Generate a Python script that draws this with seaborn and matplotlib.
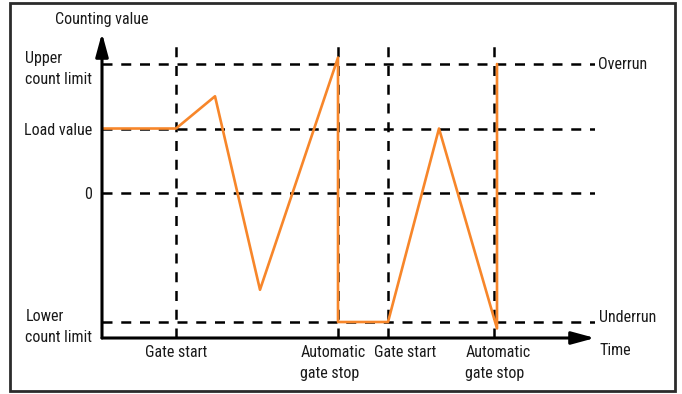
import matplotlib
matplotlib.use("Agg")
import matplotlib.pyplot as plt
import matplotlib.transforms as mtransforms
from matplotlib import font_manager
from matplotlib.patches import Rectangle
import pandas as pd
import seaborn as sns

# Counter trace (time in arbitrary units, count in level units)
time_pts = [0, 7.4, 11.3, 15.8, 23.6, 23.6, 28.6, 33.7, 39.5, 39.5]
count_pts = [1, 1, 1.5, -1.5, 2.1, -2, -2, 1, -2.1, 2]

# Reference levels on the count axis
level_values = [2, 1, 0, -2]
level_labels = ["Upper\ncount limit", "Load value", "0", "Lower\ncount limit"]

# Gate events on the time axis
gate_times = [7.4, 23.6, 28.6, 39.2]
gate_labels = ["Gate start", "Automatic\ngate stop", "Gate start", "Automatic\ngate stop"]
label_nudge_px = [0, -5, 17, 4]

orange = "#F7862A"

sns.set_style("white")
installed = {f.name for f in font_manager.fontManager.ttflist}
narrow = [n for n in ["Liberation Sans Narrow", "Roboto Condensed", "Roboto"]
          if n in installed]
plt.rcParams["font.family"] = narrow + ["DejaVu Sans"]
fs = 11.5

fig = plt.figure(figsize=(6.82, 3.94), dpi=100)
ax = fig.add_axes([102 / 682, 56 / 394, 493 / 682, 305 / 394])
ax.set_xlim(0, 49.3)
ax.set_ylim(-2.248, 2.481)

dash = dict(color="black", lw=1.8, dashes=(4, 3.5), zorder=1)
for v in level_values:
    ax.axhline(v, xmin=0, xmax=1, **dash)
for t in gate_times:
    ax.axvline(t, ymin=0, ymax=0.961, **dash)

df = pd.DataFrame({"time": time_pts, "count": count_pts})
sns.lineplot(data=df, x="time", y="count", sort=False, estimator=None,
             color=orange, lw=1.9, ax=ax, zorder=3)

for s in ax.spines.values():
    s.set_visible(False)

# axis arrows
arrow = dict(arrowstyle="-|>,head_length=1.4,head_width=0.38", lw=2.2,
             color="black", shrinkA=0, shrinkB=0, mutation_scale=10)
ax.annotate("", xy=(0, 1), xytext=(0, 0), xycoords="axes fraction",
            textcoords="axes fraction", arrowprops=arrow, zorder=5)
ax.annotate("", xy=(1, 0), xytext=(0, 0), xycoords="axes fraction",
            textcoords="axes fraction", arrowprops=arrow, zorder=5)

ax.set_yticks(level_values, labels=level_labels)
ax.set_xticks(gate_times, labels=gate_labels)
ax.tick_params(axis="y", length=0, pad=7, labelsize=fs, labelcolor="#1a1a1a")
ax.tick_params(axis="x", length=0, pad=5, labelsize=fs, labelcolor="#1a1a1a")
for lbl in ax.get_yticklabels():
    lbl.set_multialignment("left")
    lbl.set_linespacing(1.5)
for lbl, dx in zip(ax.get_xticklabels(), label_nudge_px):
    lbl.set_multialignment("left")
    lbl.set_linespacing(1.5)
    lbl.set_transform(lbl.get_transform() +
                      mtransforms.ScaledTranslation(dx / 100, 0, fig.dpi_scale_trans))
ax.set_xlabel("")
ax.set_ylabel("")

txt = dict(fontsize=fs, color="#1a1a1a")
side = ax.get_yaxis_transform()
ax.annotate("Overrun", xy=(1, level_values[0]), xycoords=side,
            xytext=(2, 0), textcoords="offset points", ha="left", va="center", **txt)
ax.annotate("Underrun", xy=(1, level_values[-1]), xycoords=side,
            xytext=(3, 3), textcoords="offset points", ha="left", va="center", **txt)
ax.annotate("Time", xy=(1, 0), xycoords="axes fraction",
            xytext=(3, -9), textcoords="offset points", ha="left", va="center", **txt)
ax.annotate("Counting value", xy=(0, 1), xycoords="axes fraction",
            xytext=(0, 4), textcoords="offset points", ha="center", va="bottom", **txt)

fig.patches.append(Rectangle((10 / 682, 3 / 394), 665 / 682, 388 / 394,
                             transform=fig.transFigure, fill=False,
                             ec="#2b2b2b", lw=2))

fig.savefig("out.png", dpi=100)
